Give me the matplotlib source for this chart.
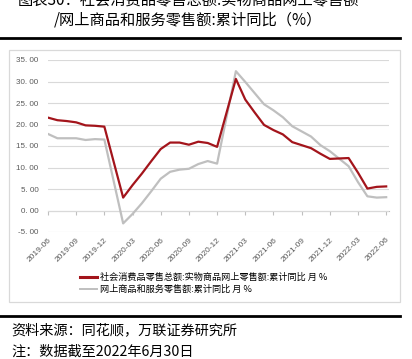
import matplotlib
matplotlib.use("Agg")
import matplotlib.pyplot as plt
from matplotlib.lines import Line2D
from matplotlib.patches import Rectangle

plt.rcParams['font.family'] = ['Noto Sans CJK SC', 'DejaVu Sans']

# months with data (January values are not published, so they are skipped)
months = ["2019-06", "2019-07", "2019-08", "2019-09", "2019-10", "2019-11", "2019-12",
          "2020-02", "2020-03", "2020-04", "2020-05", "2020-06", "2020-07", "2020-08",
          "2020-09", "2020-10", "2020-11", "2020-12",
          "2021-02", "2021-03", "2021-04", "2021-05", "2021-06", "2021-07", "2021-08",
          "2021-09", "2021-10", "2021-11", "2021-12",
          "2022-02", "2022-03", "2022-04", "2022-05", "2022-06"]

# 实物商品网上零售额 累计同比
physical = [21.6, 21.0, 20.8, 20.5, 19.8, 19.7, 19.5,
            3.0, 5.9, 8.6, 11.5, 14.3, 15.8, 15.8, 15.3, 16.0, 15.7, 14.8,
            30.6, 25.8, 22.8, 19.9, 18.7, 17.7, 15.9, 15.2, 14.5, 13.2, 12.0,
            12.2, 8.8, 5.1, 5.5, 5.6]

# 网上商品和服务零售额 累计同比
online = [17.8, 16.8, 16.8, 16.8, 16.4, 16.6, 16.5,
          -3.0, -0.8, 1.7, 4.5, 7.4, 9.0, 9.5, 9.7, 10.8, 11.5, 10.9,
          32.4, 29.9, 27.3, 24.7, 23.3, 21.7, 19.6, 18.4, 17.2, 15.2, 13.8,
          10.3, 6.6, 3.3, 3.0, 3.1]

tick_labels = ["2019-06", "2019-09", "2019-12", "2020-03", "2020-06", "2020-09", "2020-12",
               "2021-03", "2021-06", "2021-09", "2021-12", "2022-03", "2022-06"]

label_physical = "社会消费品零售总额:实物商品网上零售额:累计同比 月 %"
label_online = "网上商品和服务零售额:累计同比 月 %"


def month_index(s):
    y, m = s.split("-")
    return (int(y) - 2019) * 12 + int(m) - 6


x = [month_index(s) for s in months]
xt = [month_index(s) for s in tick_labels]

W, H = 412, 359
fig = plt.figure(figsize=(W / 100, H / 100), dpi=100)
ax = fig.add_axes([48 / W, 1 - 232 / H, (389 - 48) / W, (232 - 60) / H])

red = '#A3141B'
gray = '#BFBFBF'
ax.plot(x, online, color=gray, lw=1.6, zorder=3)
ax.plot(x, physical, color=red, lw=1.6, zorder=4)

ax.set_ylim(-5, 35)
ax.set_xlim(0, 36.3)
yt = list(range(-5, 36, 5))
ax.set_yticks(yt)
ax.set_yticklabels([("%.2f" % v).replace(".", ". ") for v in yt], fontfamily='Liberation Sans',
                   fontsize=5.8, color='#595959')
ax.set_xticks(xt)
ax.set_xticklabels(tick_labels, rotation=45, ha='right', rotation_mode='anchor',
                   fontfamily='Liberation Sans', fontsize=6, color='#595959')
ax.tick_params(axis='y', length=0, pad=7)
ax.tick_params(axis='x', length=0, pad=3)
ax.grid(axis='y', color='#D9D9D9', lw=0.8)
ax.set_axisbelow(True)
for s in ax.spines.values():
    s.set_visible(False)

# zero line with tick marks
sec = ax.secondary_xaxis(5 / 40)
sec.set_xticks(xt)
sec.set_xticklabels([])
sec.tick_params(length=3, color='#BFBFBF', width=0.8)
sec.spines['bottom'].set_color('#BFBFBF')
sec.spines['bottom'].set_linewidth(0.8)

handles = [Line2D([], [], color=red, lw=2.2), Line2D([], [], color=gray, lw=1.4)]
fig.legend(handles, [label_physical, label_online], loc='upper left',
           bbox_to_anchor=(80 / W, 1 - 273 / H), frameon=False, fontsize=6.6,
           handlelength=1.9, handletextpad=0.3, labelspacing=0.3,
           borderpad=0, borderaxespad=0)

# box around chart
fig.patches.append(Rectangle((9 / W, 1 - 302 / H), 391 / W, 252 / H, transform=fig.transFigure,
                             fill=False, edgecolor='#D9D9D9', lw=0.9))
# heavy rules
fig.add_artist(Line2D([0, 400 / W], [1 - 37.7 / H] * 2, color='black', lw=2))
fig.add_artist(Line2D([0, 400 / W], [1 - 316 / H] * 2, color='black', lw=2))

fig.text(188 / W, 1 - 0 / H, "图表30：社会消费品零售总额:实物商品网上零售额",
         ha='center', va='center', fontsize=11)
fig.text(188 / W, 1 - 20 / H, "/网上商品和服务零售额:累计同比（%）",
         ha='center', va='center', fontsize=11)
fig.text(11 / W, 1 - 330 / H, "资料来源：同花顺，万联证券研究所",
         ha='left', va='center', fontsize=10.2, style='italic')
fig.text(11 / W, 1 - 352 / H, "注：数据截至2022年6月30日",
         ha='left', va='center', fontsize=10.2, style='italic')

fig.savefig("out.png", dpi=100)
